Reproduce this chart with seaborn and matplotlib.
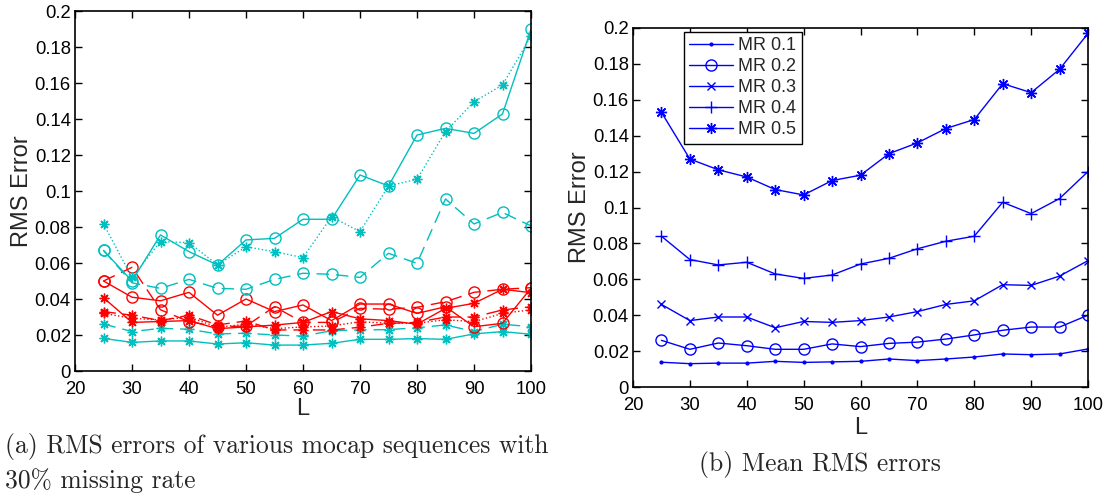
import matplotlib
matplotlib.use("Agg")
import matplotlib.pyplot as plt
import seaborn as sns
import numpy as np
import pandas as pd

# ---------------- data ----------------
L = [25, 30, 35, 40, 45, 50, 55, 60, 65, 70, 75, 80, 85, 90, 95, 100]

# (a) individual sequences, 30% missing rate
cyan_o_solid = [0.067, 0.050, 0.0756, 0.0663, 0.0589, 0.0728, 0.0737, 0.0843, 0.0843, 0.1089, 0.1028, 0.1311, 0.1348, 0.1320, 0.1428, 0.1898]
cyan_s_dot = [0.0817, 0.052, 0.0719, 0.0713, 0.0589, 0.069, 0.0663, 0.063, 0.0857, 0.0774, 0.1028, 0.1065, 0.1330, 0.1496, 0.1589, 0.1860]
cyan_o_dash = [0.067, 0.049, 0.0459, 0.0509, 0.0459, 0.0454, 0.0509, 0.0543, 0.0537, 0.052, 0.0654, 0.0598, 0.0956, 0.0817, 0.0881, 0.0806]
cyan_s_dash = [0.0261, 0.0219, 0.0237, 0.0232, 0.0206, 0.021, 0.020, 0.0194, 0.0224, 0.0228, 0.023, 0.024, 0.0256, 0.0219, 0.026, 0.0246]
cyan_s_solid = [0.0181, 0.0159, 0.0167, 0.0167, 0.015, 0.0157, 0.0144, 0.0144, 0.0154, 0.0176, 0.0176, 0.018, 0.0176, 0.0206, 0.0219, 0.0204]
red_o_solid = [0.050, 0.041, 0.039, 0.0437, 0.031, 0.040, 0.033, 0.0367, 0.028, 0.0372, 0.0372, 0.032, 0.0357, 0.0246, 0.0265, 0.046]
red_o_dash = [0.050, 0.0576, 0.034, 0.0274, 0.0246, 0.025, 0.0357, 0.027, 0.027, 0.0348, 0.0343, 0.0354, 0.0385, 0.0437, 0.0454, 0.0463]
red_s_solid = [0.0407, 0.027, 0.0275, 0.028, 0.0235, 0.0245, 0.0255, 0.027, 0.033, 0.029, 0.028, 0.026, 0.0348, 0.0376, 0.0454, 0.0435]
red_s_dash = [0.033, 0.031, 0.028, 0.031, 0.0256, 0.0278, 0.0228, 0.0228, 0.0228, 0.0243, 0.0265, 0.027, 0.030, 0.030, 0.0339, 0.0357]
red_s_dot = [0.032, 0.0293, 0.0283, 0.030, 0.0243, 0.026, 0.0235, 0.0245, 0.025, 0.0274, 0.0265, 0.0265, 0.0285, 0.0274, 0.032, 0.034]

# (b) mean RMS errors
mr_labels = ["MR 0.1", "MR 0.2", "MR 0.3", "MR 0.4", "MR 0.5"]
mr01 = [0.0138, 0.013, 0.0133, 0.0133, 0.0143, 0.0137, 0.014, 0.0143, 0.0156, 0.0147, 0.0156, 0.0167, 0.0184, 0.018, 0.0184, 0.0212]
mr02 = [0.026, 0.021, 0.0245, 0.023, 0.021, 0.021, 0.024, 0.0225, 0.0243, 0.025, 0.0267, 0.029, 0.0316, 0.0334, 0.0334, 0.040]
mr03 = [0.046, 0.037, 0.039, 0.039, 0.033, 0.0365, 0.036, 0.037, 0.039, 0.042, 0.046, 0.048, 0.057, 0.0566, 0.0618, 0.0704]
mr04 = [0.084, 0.071, 0.068, 0.0695, 0.063, 0.0605, 0.0624, 0.0685, 0.0717, 0.077, 0.0812, 0.084, 0.1029, 0.0966, 0.105, 0.120]
mr05 = [0.153, 0.127, 0.121, 0.117, 0.110, 0.107, 0.115, 0.118, 0.130, 0.136, 0.144, 0.149, 0.169, 0.164, 0.177, 0.197]

xticks = [20, 30, 40, 50, 60, 70, 80, 90, 100]
yticks = [0, 0.02, 0.04, 0.06, 0.08, 0.1, 0.12, 0.14, 0.16, 0.18, 0.2]
yticklabels = ["0", "0.02", "0.04", "0.06", "0.08", "0.1", "0.12", "0.14", "0.16", "0.18", "0.2"]

caption_a = ["(a) RMS errors of various mocap sequences with", "30% missing rate"]
caption_b = "(b) Mean RMS errors"

# ---------------- style ----------------
sns.set_theme(style="ticks")
plt.rcParams["font.family"] = ["Liberation Sans", "DejaVu Sans"]
plt.rcParams["axes.formatter.use_mathtext"] = True

CYAN = (0.0, 0.75, 0.75)
RED = (1.0, 0.0, 0.0)
BLUE = (0.0, 0.0, 1.0)
AST = (8, 2, 0)
DASH = (0, (9, 5))

fig = plt.figure(figsize=(11.12, 5.0), dpi=100)
axA = fig.add_axes([75 / 1112, 1 - 371 / 500, 456 / 1112, 360 / 500])
axB = fig.add_axes([633 / 1112, 1 - 387 / 500, 455 / 1112, 359 / 500])


def draw(ax, y, color, ls, marker, ms, label=None):
    filled = "none" if marker == "o" else color
    sns.lineplot(x=L, y=y, ax=ax, color=color, linestyle=ls, marker=marker,
                 markersize=ms, markerfacecolor=filled, markeredgecolor=color,
                 markeredgewidth=1.0, linewidth=1.0, label=label,
                 estimator=None, errorbar=None, legend=False)


series_a = [
    (cyan_s_solid, CYAN, "-", AST, 7),
    (cyan_s_dash, CYAN, DASH, AST, 7),
    (red_s_dot, RED, ":", AST, 7),
    (red_s_dash, RED, DASH, AST, 7),
    (red_s_solid, RED, "-", AST, 7),
    (red_o_dash, RED, DASH, "o", 8),
    (red_o_solid, RED, "-", "o", 8),
    (cyan_o_dash, CYAN, DASH, "o", 8),
    (cyan_s_dot, CYAN, ":", AST, 7),
    (cyan_o_solid, CYAN, "-", "o", 8),
]
for y, c, ls, m, ms in series_a:
    draw(axA, y, c, ls, m, ms)

series_b = [
    (mr01, ".", 4),
    (mr02, "o", 8),
    (mr03, "x", 6),
    (mr04, "+", 9),
    (mr05, AST, 8),
]
for (y, m, ms), lab in zip(series_b, mr_labels):
    draw(axB, y, BLUE, "-", m, ms, label=lab)

for ax, lpad in ((axA, 0), (axB, 2)):
    ax.set_xlim(20, 100)
    ax.set_ylim(0, 0.2)
    ax.set_xticks(xticks)
    ax.set_xticklabels([str(v) for v in xticks])
    ax.set_yticks(yticks)
    ax.set_yticklabels(yticklabels)
    ax.tick_params(direction="in", length=5, width=1, top=True, right=True,
                   labelsize=13.3, colors="black")
    ax.tick_params(axis="x", pad=7)
    ax.tick_params(axis="y", pad=3)
    for s in ax.spines.values():
        s.set_visible(True)
        s.set_color("black")
        s.set_linewidth(1.2)
    ax.set_facecolor("white")
    ax.set_xlabel("L", fontsize=17, labelpad=lpad)
    ax.set_ylabel("RMS Error", fontsize=17, labelpad=1)

leg = axB.legend(loc="upper left", bbox_to_anchor=(0.112, 0.989), fontsize=13,
                 frameon=True, fancybox=False, edgecolor="black", framealpha=1,
                 handlelength=2.4, borderpad=0.3, labelspacing=0.22,
                 handletextpad=0.3, borderaxespad=0)
leg.get_frame().set_linewidth(1.0)

cap_font = ["cmr10", "DejaVu Serif"]
fig.text(5 / 1112, 1 - 447 / 500, caption_a[0], family=cap_font, fontsize=18.4,
         ha="left", va="center")
fig.text(5 / 1112, 1 - 481 / 500, caption_a[1], family=cap_font, fontsize=18.4,
         ha="left", va="center")
fig.text(820 / 1112, 1 - 465 / 500, caption_b, family=cap_font, fontsize=18.4,
         ha="center", va="center")

fig.savefig("out.png", dpi=100, facecolor="white")
